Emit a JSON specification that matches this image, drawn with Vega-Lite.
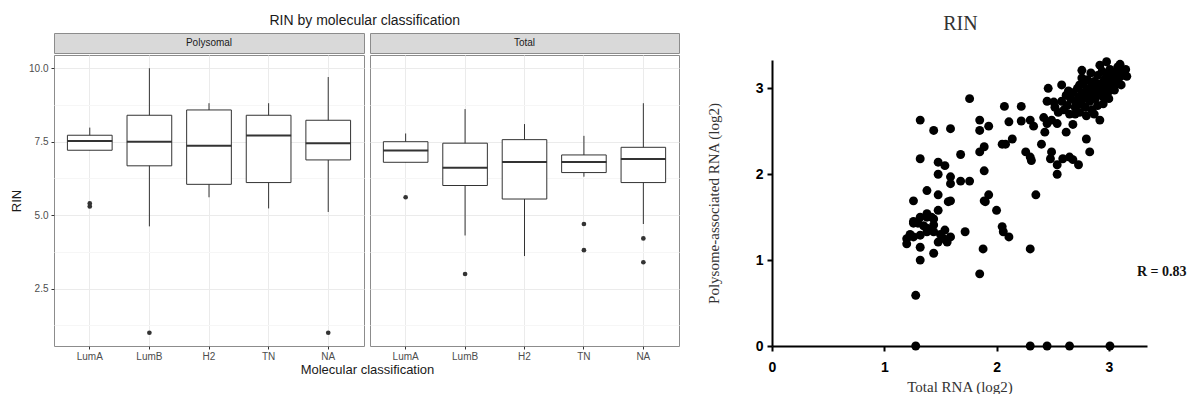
{
  "$schema": "https://vega.github.io/schema/vega-lite/v6.json",
  "background": "white",
  "padding": {"left": 10, "top": 13, "right": 0, "bottom": 0},
  "config": {"font": "Liberation Sans", "view": {"stroke": null}},
  "datasets": {
    "box": [
      {"panel": "Polysomal", "cls": "LumA", "lower": 7.21, "q1": 7.21, "median": 7.52, "q3": 7.72, "upper": 7.98},
      {"panel": "Polysomal", "cls": "LumB", "lower": 4.62, "q1": 6.68, "median": 7.5, "q3": 8.4, "upper": 10.0},
      {"panel": "Polysomal", "cls": "H2", "lower": 5.61, "q1": 6.05, "median": 7.36, "q3": 8.58, "upper": 8.81},
      {"panel": "Polysomal", "cls": "TN", "lower": 5.23, "q1": 6.11, "median": 7.71, "q3": 8.4, "upper": 8.81},
      {"panel": "Polysomal", "cls": "NA", "lower": 5.11, "q1": 6.88, "median": 7.45, "q3": 8.23, "upper": 9.7},
      {"panel": "Total", "cls": "LumA", "lower": 6.8, "q1": 6.8, "median": 7.2, "q3": 7.5, "upper": 7.78},
      {"panel": "Total", "cls": "LumB", "lower": 4.31, "q1": 6.01, "median": 6.61, "q3": 7.45, "upper": 8.61},
      {"panel": "Total", "cls": "H2", "lower": 3.61, "q1": 5.55, "median": 6.81, "q3": 7.57, "upper": 8.1},
      {"panel": "Total", "cls": "TN", "lower": 6.31, "q1": 6.45, "median": 6.81, "q3": 7.05, "upper": 7.7},
      {"panel": "Total", "cls": "NA", "lower": 4.7, "q1": 6.11, "median": 6.91, "q3": 7.31, "upper": 8.81}
    ],
    "out": [
      {"panel": "Polysomal", "cls": "LumA", "value": 5.3},
      {"panel": "Polysomal", "cls": "LumA", "value": 5.4},
      {"panel": "Polysomal", "cls": "LumB", "value": 1.0},
      {"panel": "Polysomal", "cls": "NA", "value": 1.0},
      {"panel": "Total", "cls": "LumA", "value": 5.61},
      {"panel": "Total", "cls": "LumB", "value": 3.0},
      {"panel": "Total", "cls": "TN", "value": 4.7},
      {"panel": "Total", "cls": "TN", "value": 3.81},
      {"panel": "Total", "cls": "NA", "value": 4.21},
      {"panel": "Total", "cls": "NA", "value": 3.4}
    ],
    "scatter": [
      {"x": 1.32, "y": 2.63}, {"x": 1.44, "y": 2.51}, {"x": 1.59, "y": 2.53}, {"x": 1.76, "y": 2.88}, {"x": 1.85, "y": 2.63},
      {"x": 1.85, "y": 2.51}, {"x": 1.93, "y": 2.56}, {"x": 1.85, "y": 2.26}, {"x": 1.89, "y": 2.32}, {"x": 1.32, "y": 2.18},
      {"x": 1.48, "y": 2.14}, {"x": 1.54, "y": 2.1}, {"x": 1.48, "y": 2.0}, {"x": 1.59, "y": 1.97}, {"x": 1.59, "y": 1.89},
      {"x": 1.68, "y": 1.92}, {"x": 1.76, "y": 1.92}, {"x": 1.68, "y": 2.23}, {"x": 1.89, "y": 2.04}, {"x": 1.38, "y": 1.81},
      {"x": 1.48, "y": 1.76}, {"x": 1.26, "y": 1.69}, {"x": 1.59, "y": 1.69}, {"x": 1.93, "y": 1.76}, {"x": 1.89, "y": 1.69},
      {"x": 2.35, "y": 1.76},
      {"x": 2.07, "y": 2.79}, {"x": 2.22, "y": 2.79}, {"x": 2.11, "y": 2.61}, {"x": 2.22, "y": 2.62}, {"x": 2.3, "y": 2.63},
      {"x": 2.33, "y": 2.56}, {"x": 2.05, "y": 2.35}, {"x": 2.14, "y": 2.41}, {"x": 2.08, "y": 2.35}, {"x": 2.26, "y": 2.26},
      {"x": 2.3, "y": 2.2}, {"x": 2.31, "y": 2.16}, {"x": 2.4, "y": 2.35}, {"x": 2.42, "y": 2.66}, {"x": 2.45, "y": 2.59},
      {"x": 2.43, "y": 2.49}, {"x": 2.49, "y": 2.63}, {"x": 2.45, "y": 2.85}, {"x": 2.51, "y": 2.84}, {"x": 2.46, "y": 3.0},
      {"x": 2.54, "y": 2.59}, {"x": 2.62, "y": 2.49}, {"x": 2.68, "y": 2.58}, {"x": 2.48, "y": 2.18}, {"x": 2.54, "y": 2.11},
      {"x": 2.59, "y": 2.18}, {"x": 2.65, "y": 2.2}, {"x": 2.68, "y": 2.17}, {"x": 2.73, "y": 2.11}, {"x": 2.54, "y": 2.0},
      {"x": 2.8, "y": 2.41}, {"x": 2.83, "y": 2.26}, {"x": 2.92, "y": 2.63}, {"x": 2.49, "y": 2.26},
      {"x": 1.26, "y": 1.43}, {"x": 1.3, "y": 1.43}, {"x": 1.38, "y": 1.54}, {"x": 1.38, "y": 1.5}, {"x": 1.44, "y": 1.48},
      {"x": 1.48, "y": 1.58}, {"x": 1.44, "y": 1.41}, {"x": 1.2, "y": 1.25}, {"x": 1.2, "y": 1.19}, {"x": 1.26, "y": 1.27},
      {"x": 1.32, "y": 1.29}, {"x": 1.38, "y": 1.33}, {"x": 1.44, "y": 1.33}, {"x": 1.48, "y": 1.21}, {"x": 1.53, "y": 1.25},
      {"x": 1.56, "y": 1.21}, {"x": 1.59, "y": 1.27}, {"x": 1.32, "y": 1.15}, {"x": 1.44, "y": 1.08}, {"x": 1.32, "y": 1.0},
      {"x": 1.72, "y": 1.33}, {"x": 1.57, "y": 1.68}, {"x": 1.28, "y": 0.59}, {"x": 1.9, "y": 1.68}, {"x": 2.0, "y": 1.58},
      {"x": 2.05, "y": 1.39}, {"x": 2.06, "y": 1.33}, {"x": 2.11, "y": 1.27}, {"x": 1.88, "y": 1.13}, {"x": 1.85, "y": 0.84},
      {"x": 2.3, "y": 1.13}, {"x": 1.42, "y": 1.5}, {"x": 1.32, "y": 1.5}, {"x": 1.26, "y": 1.45}, {"x": 1.38, "y": 1.37},
      {"x": 1.54, "y": 1.35}, {"x": 1.35, "y": 1.4}, {"x": 1.5, "y": 1.3}, {"x": 1.23, "y": 1.3},
      {"x": 1.28, "y": 0}, {"x": 2.3, "y": 0}, {"x": 2.45, "y": 0}, {"x": 2.65, "y": 0}, {"x": 3.01, "y": 0},
      {"x": 2.52, "y": 2.78}, {"x": 2.55, "y": 2.72}, {"x": 2.58, "y": 2.85}, {"x": 2.6, "y": 2.75}, {"x": 2.62, "y": 2.92},
      {"x": 2.63, "y": 2.8}, {"x": 2.65, "y": 2.7}, {"x": 2.66, "y": 2.88}, {"x": 2.68, "y": 2.95}, {"x": 2.7, "y": 2.78},
      {"x": 2.7, "y": 2.85}, {"x": 2.72, "y": 3.0}, {"x": 2.73, "y": 2.9}, {"x": 2.74, "y": 2.72}, {"x": 2.75, "y": 2.82},
      {"x": 2.76, "y": 2.95}, {"x": 2.77, "y": 3.05}, {"x": 2.78, "y": 2.88}, {"x": 2.79, "y": 2.78}, {"x": 2.8, "y": 2.98},
      {"x": 2.81, "y": 3.1}, {"x": 2.82, "y": 2.92}, {"x": 2.83, "y": 2.85}, {"x": 2.84, "y": 3.02}, {"x": 2.85, "y": 2.75},
      {"x": 2.86, "y": 2.95}, {"x": 2.87, "y": 3.08}, {"x": 2.88, "y": 2.88}, {"x": 2.89, "y": 3.0}, {"x": 2.9, "y": 2.8},
      {"x": 2.9, "y": 3.15}, {"x": 2.91, "y": 2.93}, {"x": 2.92, "y": 3.05}, {"x": 2.93, "y": 2.98}, {"x": 2.94, "y": 3.2},
      {"x": 2.95, "y": 2.9}, {"x": 2.96, "y": 3.1}, {"x": 2.97, "y": 3.02}, {"x": 2.98, "y": 3.15}, {"x": 2.99, "y": 2.95},
      {"x": 3.0, "y": 3.08}, {"x": 3.01, "y": 3.22}, {"x": 3.02, "y": 3.0}, {"x": 3.03, "y": 3.12}, {"x": 3.05, "y": 3.18},
      {"x": 3.06, "y": 3.05}, {"x": 3.08, "y": 3.25}, {"x": 3.09, "y": 3.12}, {"x": 3.12, "y": 3.2}, {"x": 3.14, "y": 3.15},
      {"x": 3.15, "y": 3.22}, {"x": 3.1, "y": 3.28}, {"x": 2.87, "y": 2.7}, {"x": 2.8, "y": 2.68}, {"x": 2.95, "y": 2.82},
      {"x": 3.0, "y": 2.88}, {"x": 2.7, "y": 2.7}, {"x": 2.64, "y": 2.97}, {"x": 2.76, "y": 3.12}, {"x": 2.84, "y": 3.18},
      {"x": 2.58, "y": 3.04}, {"x": 2.76, "y": 3.21}, {"x": 2.92, "y": 3.27}, {"x": 2.98, "y": 3.31}, {"x": 3.1, "y": 3.21},
      {"x": 3.16, "y": 3.14}, {"x": 3.11, "y": 3.04}, {"x": 3.05, "y": 2.98}, {"x": 2.74, "y": 3.04}
    ]
  },
  "align": "none",
  "spacing": 26,
  "hconcat": [
    {
      "title": {"text": "RIN by molecular classification", "fontSize": 14, "fontWeight": "normal", "color": "#1a1a1a", "anchor": "middle", "dx": 20, "offset": 5},
      "spacing": -66,
      "align": "none",
      "hconcat": [
        {
          "spacing": 0,
          "vconcat": [
            {
              "width": 310, "height": 20,
              "view": {"fill": "#d9d9d9", "stroke": "#8c8c8c"},
              "data": {"values": [{"label": "Polysomal"}]},
              "mark": {"type": "text", "fontSize": 10, "color": "#1a1a1a"},
              "encoding": {"text": {"field": "label"}}
            },
            {
              "width": 310, "height": 291,
              "view": {"stroke": "#8c8c8c"},
              "encoding": {
                "x": {"field": "cls", "type": "nominal", "sort": ["LumA", "LumB", "H2", "TN", "NA"],
                  "scale": {"domain": ["LumA", "LumB", "H2", "TN", "NA"], "paddingInner": 0, "paddingOuter": 0.1},
                  "axis": {"title": "Molecular classification", "titleX": 313, "labelAngle": 0, "grid": true, "gridColor": "#ebebeb", "bandPosition": 0.5, "domain": false, "tickColor": "#333333", "tickSize": 3, "labelColor": "#4d4d4d", "labelFontSize": 10, "labelPadding": 2, "titleFontSize": 13, "titleFontWeight": "normal", "titleColor": "#1a1a1a", "titlePadding": 2}}
              },
              "layer": [
                {
                  "data": {"name": "box"},
                  "transform": [{"filter": "datum.panel === 'Polysomal'"}],
                  "mark": {"type": "rule", "color": "#333333"},
                  "encoding": {
                    "y": {"field": "lower", "type": "quantitative", "title": "RIN",
                      "scale": {"domain": [0.55, 10.45], "nice": false, "zero": false},
                      "axis": {"values": [1.25, 2.5, 3.75, 5, 6.25, 7.5, 8.75, 10], "labelExpr": "datum.value % 2.5 === 0 ? format(datum.value, '.1f') : ''", "gridColor": {"condition": {"test": "datum.value % 2.5 === 0", "value": "#ebebeb"}, "value": "#f6f6f6"}, "tickOpacity": {"condition": {"test": "datum.value % 2.5 === 0", "value": 1}, "value": 0}, "domain": false, "tickColor": "#333333", "tickSize": 3, "labelColor": "#4d4d4d", "labelFontSize": 10, "labelPadding": 3, "titleFontSize": 13, "titleFontWeight": "normal", "titleColor": "#1a1a1a", "titlePadding": 5}},
                    "y2": {"field": "upper"}
                  }
                },
                {
                  "data": {"name": "box"},
                  "transform": [{"filter": "datum.panel === 'Polysomal'"}],
                  "mark": {"type": "bar", "fill": "white", "stroke": "#333333", "strokeWidth": 1, "width": {"band": 0.75}},
                  "encoding": {"y": {"field": "q1", "type": "quantitative", "title": "RIN"}, "y2": {"field": "q3"}}
                },
                {
                  "data": {"name": "box"},
                  "transform": [{"filter": "datum.panel === 'Polysomal'"}],
                  "mark": {"type": "tick", "color": "#333333", "thickness": 2, "size": 45, "opacity": 1},
                  "encoding": {"y": {"field": "median", "type": "quantitative", "title": "RIN"}}
                },
                {
                  "data": {"name": "out"},
                  "transform": [{"filter": "datum.panel === 'Polysomal'"}],
                  "mark": {"type": "circle", "color": "#333333", "opacity": 1, "size": 22},
                  "encoding": {"y": {"field": "value", "type": "quantitative", "title": "RIN"}}
                }
              ]
            }
          ]
        },
        {
          "spacing": 0,
          "vconcat": [
            {
              "width": 309, "height": 20,
              "view": {"fill": "#d9d9d9", "stroke": "#8c8c8c"},
              "data": {"values": [{"label": "Total"}]},
              "mark": {"type": "text", "fontSize": 10, "color": "#1a1a1a"},
              "encoding": {"text": {"field": "label"}}
            },
            {
              "width": 309, "height": 291,
              "view": {"stroke": "#8c8c8c"},
              "encoding": {
                "x": {"field": "cls", "type": "nominal", "sort": ["LumA", "LumB", "H2", "TN", "NA"],
                  "scale": {"domain": ["LumA", "LumB", "H2", "TN", "NA"], "paddingInner": 0, "paddingOuter": 0.1},
                  "axis": {"title": null, "labelAngle": 0, "grid": true, "gridColor": "#ebebeb", "bandPosition": 0.5, "domain": false, "tickColor": "#333333", "tickSize": 3, "labelColor": "#4d4d4d", "labelFontSize": 10, "labelPadding": 2}}
              },
              "layer": [
                {
                  "data": {"name": "box"},
                  "transform": [{"filter": "datum.panel === 'Total'"}],
                  "mark": {"type": "rule", "color": "#333333"},
                  "encoding": {
                    "y": {"field": "lower", "type": "quantitative", "title": null,
                      "scale": {"domain": [0.55, 10.45], "nice": false, "zero": false},
                      "axis": {"values": [1.25, 2.5, 3.75, 5, 6.25, 7.5, 8.75, 10], "labels": false, "ticks": false, "domain": false, "title": null, "minExtent": 0, "maxExtent": 0, "labelPadding": 0, "gridColor": {"condition": {"test": "datum.value % 2.5 === 0", "value": "#ebebeb"}, "value": "#f6f6f6"}}},
                    "y2": {"field": "upper"}
                  }
                },
                {
                  "data": {"name": "box"},
                  "transform": [{"filter": "datum.panel === 'Total'"}],
                  "mark": {"type": "bar", "fill": "white", "stroke": "#333333", "strokeWidth": 1, "width": {"band": 0.75}},
                  "encoding": {"y": {"field": "q1", "type": "quantitative", "title": null}, "y2": {"field": "q3"}}
                },
                {
                  "data": {"name": "box"},
                  "transform": [{"filter": "datum.panel === 'Total'"}],
                  "mark": {"type": "tick", "color": "#333333", "thickness": 2, "size": 45, "opacity": 1},
                  "encoding": {"y": {"field": "median", "type": "quantitative", "title": null}}
                },
                {
                  "data": {"name": "out"},
                  "transform": [{"filter": "datum.panel === 'Total'"}],
                  "mark": {"type": "circle", "color": "#333333", "opacity": 1, "size": 22},
                  "encoding": {"y": {"field": "value", "type": "quantitative", "title": null}}
                }
              ]
            }
          ]
        }
      ]
    },
    {
      "title": {"text": "RIN", "font": "Liberation Serif", "fontSize": 20, "fontWeight": "normal", "color": "#333333", "anchor": "middle", "dx": 14, "offset": -1},
      "spacing": 0,
      "vconcat": [
        {
          "width": 375, "height": 24,
          "data": {"values": []},
          "mark": "point"
        },
        {
          "width": 375, "height": 286,
          "layer": [
            {
              "data": {"name": "scatter"},
              "mark": {"type": "circle", "size": 80, "color": "black", "opacity": 1, "clip": false},
              "encoding": {
                "x": {"field": "x", "type": "quantitative", "scale": {"domain": [0, 3.34], "nice": false, "zero": false},
                  "axis": {"title": "Total RNA (log2)", "values": [0, 1, 2, 3], "format": "d", "grid": false, "labelFlush": false, "domainColor": "black", "domainWidth": 2, "tickColor": "black", "tickWidth": 2, "tickSize": 5, "labelFont": "Liberation Sans", "labelFontWeight": "bold", "labelFontSize": 14, "labelColor": "black", "labelPadding": 9, "titleFont": "Liberation Serif", "titleFontWeight": "normal", "titleFontSize": 15, "titleColor": "#333333", "titlePadding": 5}},
                "y": {"field": "y", "type": "quantitative", "scale": {"domain": [0, 3.33], "nice": false, "zero": false},
                  "axis": {"title": "Polysome-associated RNA (log2)", "values": [0, 1, 2, 3], "format": "d", "grid": false, "labelFlush": false, "domainColor": "black", "domainWidth": 2, "tickColor": "black", "tickWidth": 2, "tickSize": 5, "labelFont": "Liberation Sans", "labelFontWeight": "bold", "labelFontSize": 14, "labelColor": "black", "labelPadding": 4, "titleFont": "Liberation Serif", "titleFontWeight": "normal", "titleFontSize": 15, "titleColor": "#333333", "titlePadding": 34}}
              }
            },
            {
              "data": {"values": [{"label": "R = 0.83"}]},
              "mark": {"type": "text", "font": "Liberation Serif", "fontWeight": "bold", "fontSize": 14, "align": "left", "color": "#111111", "clip": false},
              "encoding": {"x": {"datum": 3.25}, "y": {"datum": 0.86}, "text": {"field": "label"}}
            }
          ]
        }
      ]
    }
  ]
}
